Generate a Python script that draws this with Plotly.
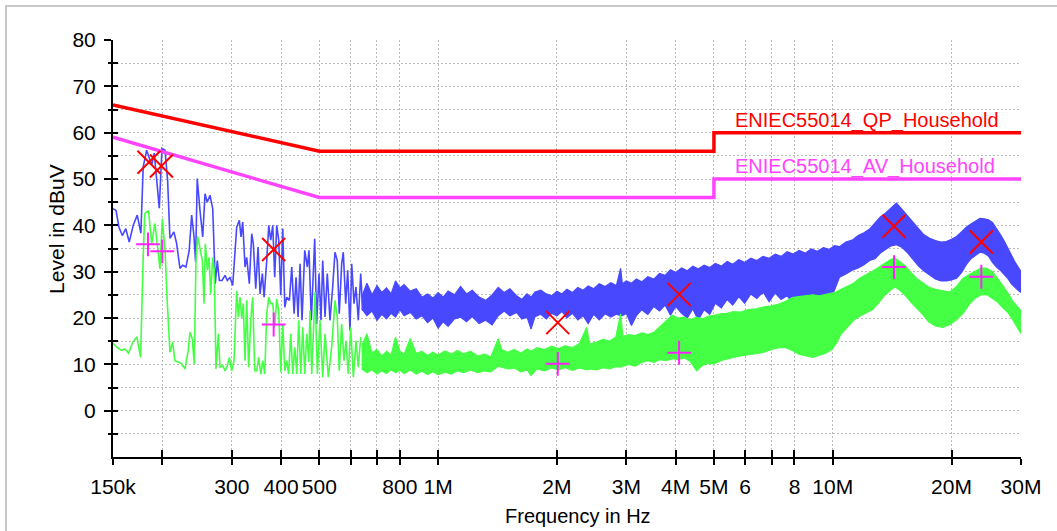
import plotly.graph_objects as go

# ---------------- data (frequency in MHz, level in dBuV) ----------------
# Peak (QP-detector) scan, low-frequency part drawn as a line
qp_line_f = [0.150, 0.1527, 0.1553, 0.1584, 0.1616, 0.1649, 0.1688, 0.1728, 0.1765, 0.1789,
             0.1825, 0.1880, 0.1908, 0.1965, 0.1996, 0.2032, 0.2063, 0.2091, 0.2140, 0.2174,
             0.2217, 0.2252, 0.2296, 0.2340, 0.2374, 0.2405, 0.2429, 0.2452, 0.2492, 0.2532,
             0.2566, 0.2600, 0.2642, 0.2684, 0.2725, 0.2757, 0.2790, 0.2834, 0.2884, 0.2923,
             0.2969, 0.3016, 0.3087, 0.3135, 0.3166, 0.3198, 0.3241, 0.3273, 0.3323, 0.3370,
             0.3402, 0.3450, 0.3497, 0.3538, 0.3586, 0.3622, 0.3679, 0.3722, 0.3765, 0.3810,
             0.3854, 0.3899, 0.3945, 0.3992, 0.4039, 0.4087, 0.4134, 0.4198, 0.4257, 0.4315,
             0.4365, 0.4417, 0.4468, 0.4520, 0.4592, 0.4662, 0.4707, 0.4772, 0.4867, 0.4923,
             0.4991, 0.5049, 0.5100, 0.5169, 0.5238, 0.5320, 0.5405, 0.5478, 0.5552, 0.5617,
             0.5696, 0.5750, 0.5832, 0.5900, 0.5980, 0.6040, 0.6121, 0.6193, 0.6277, 0.6366,
             0.6441]
qp_line_v = [43.6, 43.2, 39.6, 37.8, 39.3, 36.4, 40.0, 42.2, 38.3, 52.6,
             56.2, 53.0, 55.6, 43.7, 56.6, 56.2, 49.7, 37.2, 38.6, 36.1,
             30.7, 31.4, 31.0, 34.6, 42.2, 37.8, 32.1, 50.1, 43.2, 37.5,
             46.8, 45.0, 46.5, 43.6, 27.4, 32.4, 28.1, 28.1, 29.2, 28.1,
             28.8, 27.0, 39.6, 41.1, 37.5, 40.7, 31.0, 33.1, 27.4, 38.2,
             36.0, 26.3, 35.3, 25.2, 29.6, 24.5, 32.4, 40.0, 36.8, 40.0,
             28.8, 40.0, 36.8, 24.9, 39.3, 22.3, 24.5, 23.8, 31.0, 20.9,
             28.8, 20.2, 31.7, 19.5, 34.6, 31.0, 34.6, 19.5, 37.1, 18.7,
             29.6, 19.5, 32.4, 20.2, 29.6, 19.5, 26.7, 34.2, 32.4, 20.9,
             31.7, 34.2, 23.1, 30.3, 17.3, 31.7, 23.1, 26.7, 19.5, 29.6,
             21.6]

# Peak scan, dense part drawn as a band (upper / lower envelope)
qp_band_f = [0.64, 0.66, 0.68, 0.70, 0.72, 0.74, 0.76, 0.78, 0.80, 0.82,
             0.85, 0.88, 0.91, 0.94, 0.97, 1.00, 1.03, 1.06, 1.10, 1.14,
             1.18, 1.22, 1.27, 1.32, 1.37, 1.42, 1.47, 1.52, 1.58, 1.63,
             1.68, 1.72, 1.76, 1.82, 1.88, 1.94, 2.00, 2.06, 2.12, 2.19,
             2.26, 2.33, 2.40, 2.48, 2.56, 2.65, 2.74, 2.83, 2.90, 2.93,
             3.00, 3.09, 3.18, 3.28, 3.40, 3.52, 3.64, 3.76, 3.88, 4.00,
             4.14, 4.28, 4.42, 4.56, 4.72, 4.88, 5.04, 5.22, 5.40, 5.58,
             5.78, 5.98, 6.20, 6.42, 6.66, 6.90, 7.15, 7.40, 7.66, 7.94,
             8.22, 8.52, 8.82, 9.14, 9.47, 9.80, 10.1, 10.4, 10.8, 11.2,
             11.6, 12.0, 12.4, 12.8, 13.2, 13.6, 14.0, 14.5, 15.0, 15.5,
             16.0, 16.5, 17.0, 17.6, 18.2, 18.8, 19.4, 20.0, 20.6, 21.2,
             21.8, 22.4, 23.0, 23.6, 24.2, 24.8, 25.4, 26.0, 26.6, 27.2,
             27.8, 28.4, 29.0, 29.5, 30.0]
qp_band_hi = [24.5, 27.5, 25.0, 27.0, 25.5, 26.5, 25.2, 28.0, 26.5, 27.2,
              25.8, 26.3, 24.5, 25.2, 24.3, 25.5, 24.5, 25.8, 25.0, 26.8,
              25.2, 26.0, 24.5, 23.8, 25.0, 26.6, 25.5, 26.3, 24.8, 24.0,
              25.2, 24.5, 25.6, 26.0, 25.2, 24.8, 25.8, 25.2, 26.2, 25.5,
              26.6, 26.0, 26.9, 26.3, 27.4, 26.8, 27.6, 27.0, 30.7, 27.4,
              28.0, 27.5, 28.4, 27.8, 28.9, 28.4, 29.6, 29.2, 30.4, 29.8,
              30.8, 30.2, 31.2, 30.6, 31.4, 30.9, 31.8, 31.2, 32.2, 31.6,
              32.6, 32.0, 32.9, 32.4, 33.3, 32.9, 33.8, 33.3, 34.3, 33.8,
              34.6, 34.0, 34.9, 34.4, 35.2, 34.8, 35.6, 35.4, 36.4, 36.8,
              37.8, 38.4, 39.2, 40.5, 41.8, 42.6, 43.6, 44.8, 43.4, 42.0,
              40.4, 39.2, 38.0, 37.2, 36.7, 36.4, 36.5, 37.0, 37.6, 38.6,
              39.6, 40.3, 40.9, 41.5, 41.4, 41.2, 40.6, 39.4, 38.0, 36.6,
              35.0, 33.4, 32.0, 31.0, 30.0]
qp_band_lo = [22.0, 20.5, 21.5, 19.5, 20.8, 19.8, 21.0, 20.2, 21.8, 20.5,
              21.2, 19.8, 20.5, 19.0, 20.0, 17.8, 19.2, 18.2, 19.8, 20.2,
              19.2, 20.3, 18.8, 19.5, 18.5, 20.5, 21.5, 20.5, 21.2, 19.8,
              20.2, 17.6, 20.3, 20.8, 19.8, 21.0, 20.5, 21.4, 20.0, 21.0,
              19.6, 20.5, 18.8, 20.8, 19.6, 20.9, 20.2, 20.8, 20.5, 20.5,
              21.0, 18.4, 20.5, 21.8, 20.8, 22.5, 21.5, 22.8, 20.6, 22.5,
              21.0, 20.0, 22.0, 19.5, 21.8, 20.8, 23.2, 22.2, 24.0, 22.8,
              24.6, 23.2, 25.2, 24.2, 25.6, 23.5, 25.4, 24.0, 24.8, 23.2,
              24.5, 22.8, 23.8, 22.5, 24.0, 23.5, 26.0, 28.8, 29.5, 30.3,
              30.8, 31.5, 32.4, 32.8, 34.0, 34.8, 35.5, 35.8, 35.2, 34.0,
              32.5, 31.2, 30.2, 29.2, 28.4, 28.0, 28.0, 28.2, 28.6, 29.8,
              31.5, 32.8, 33.6, 34.2, 34.0, 33.4, 32.0, 31.0, 30.3, 29.5,
              28.5, 27.3, 26.5, 26.0, 25.5]

# Average scan, low-frequency part
av_line_f = [0.150, 0.1534, 0.1575, 0.1607, 0.1643, 0.1684, 0.1724, 0.1762, 0.1789, 0.1805,
             0.1845, 0.1880, 0.1916, 0.1953, 0.1973, 0.2000, 0.2032, 0.2058, 0.2091, 0.2124,
             0.2153, 0.2196, 0.2239, 0.2283, 0.2327, 0.2350, 0.2382, 0.2410, 0.2434, 0.2458,
             0.2492, 0.2526, 0.2551, 0.2571, 0.2601, 0.2627, 0.2653, 0.2684, 0.2709, 0.2736,
             0.2773, 0.2801, 0.2846, 0.2884, 0.2923, 0.2957, 0.2999, 0.3039, 0.3087, 0.3117,
             0.3148, 0.3179, 0.3209, 0.3241, 0.3273, 0.3310, 0.3351, 0.3390, 0.3430, 0.3470,
             0.3511, 0.3553, 0.3594, 0.3636, 0.3679, 0.3722, 0.3765, 0.3810, 0.3854, 0.3899,
             0.3945, 0.3992, 0.4039, 0.4087, 0.4134, 0.4181, 0.4232, 0.4282, 0.4332, 0.4383,
             0.4434, 0.4486, 0.4539, 0.4592, 0.4646, 0.4700, 0.4736, 0.4783, 0.4877, 0.4943,
             0.5020, 0.5100, 0.5169, 0.5270, 0.5373, 0.5478, 0.5552, 0.5617, 0.5696, 0.5773,
             0.5841, 0.5920, 0.6005, 0.6097, 0.6193, 0.6277, 0.6366]
av_line_v = [14.6, 13.7, 13.0, 13.3, 12.4, 14.8, 15.9, 11.5, 33.1, 42.5,
             43.2, 36.0, 40.4, 34.6, 30.6, 41.4, 34.6, 23.8, 12.6, 14.8,
             10.8, 10.5, 10.1, 9.0, 13.0, 16.9, 15.5, 10.1, 32.4, 37.6,
             34.6, 32.4, 23.1, 36.0, 30.3, 33.1, 25.2, 33.1, 30.3, 9.0,
             16.6, 9.4, 9.7, 8.6, 9.7, 11.5, 8.6, 10.8, 25.9, 20.2,
             24.5, 20.0, 23.1, 10.8, 23.8, 9.4, 19.5, 24.5, 8.6, 8.6,
             11.5, 7.9, 10.8, 7.9, 20.9, 24.5, 23.1, 23.1, 18.0, 24.1,
             21.6, 8.3, 18.7, 8.6, 10.8, 7.9, 16.6, 7.9, 13.7, 7.9,
             19.5, 7.9, 18.0, 7.9, 16.6, 10.5, 21.6, 7.9, 25.6, 7.9,
             19.5, 7.2, 16.6, 7.2, 13.7, 23.8, 20.2, 8.6, 18.7, 10.8,
             15.1, 7.9, 18.0, 7.2, 15.1, 9.4, 15.9]

# Average scan, dense part as a band
av_band_f = [0.64, 0.66, 0.68, 0.70, 0.72, 0.74, 0.76, 0.78, 0.80, 0.82,
             0.85, 0.88, 0.91, 0.94, 0.97, 1.00, 1.04, 1.08, 1.12, 1.16,
             1.21, 1.26, 1.31, 1.36, 1.42, 1.45, 1.50, 1.56, 1.62, 1.68,
             1.72, 1.78, 1.86, 1.94, 2.02, 2.10, 2.19, 2.28, 2.38, 2.42,
             2.52, 2.62, 2.72, 2.82, 2.90, 2.94, 3.04, 3.16, 3.28, 3.40,
             3.52, 3.64, 3.78, 3.92, 4.06, 4.20, 4.36, 4.52, 4.68, 4.84,
             5.00, 5.20, 5.40, 5.60, 5.85, 6.10, 6.40, 6.70, 7.00, 7.30,
             7.60, 7.90, 8.20, 8.55, 8.90, 9.25, 9.60, 9.95, 10.2, 10.5,
             10.9, 11.3, 11.7, 12.1, 12.6, 13.0, 13.5, 14.0, 14.4, 14.8,
             15.3, 15.8, 16.3, 16.9, 17.5, 18.2, 19.0, 19.8, 20.6, 21.4,
             22.2, 23.0, 23.8, 24.6, 25.4, 26.2, 27.0, 27.8, 28.6, 29.3,
             30.0]
av_band_hi = [14.0, 16.6, 12.5, 13.2, 11.8, 12.8, 12.0, 15.9, 12.8, 12.2,
              15.6, 12.4, 12.8, 11.9, 12.6, 12.0, 12.9, 12.2, 13.0, 12.3,
              12.8, 11.8, 12.2, 11.6, 15.5, 13.2, 12.6, 13.2, 12.4, 13.3,
              12.8, 13.6, 13.2, 13.9, 13.4, 14.0, 13.6, 14.5, 18.0, 14.4,
              14.8, 15.4, 15.0, 15.9, 20.9, 16.0, 16.4, 16.2, 16.8, 16.4,
              16.9, 18.0, 19.4, 20.6, 20.0, 20.2, 19.6, 20.2, 19.8, 20.4,
              20.6, 20.9, 21.0, 21.4, 21.3, 21.8, 22.0, 22.4, 22.6, 23.0,
              23.6, 24.4, 24.6, 24.8, 25.0, 24.8, 25.1, 25.3, 25.6, 26.2,
              26.8, 27.5, 28.6, 29.2, 30.1, 30.8, 31.8, 32.6, 32.9, 32.2,
              31.2, 29.8, 28.6, 27.6, 26.7, 26.2, 25.9, 25.6, 26.8, 28.6,
              29.4, 30.2, 30.8, 30.7, 30.0, 28.5, 27.0, 25.4, 23.6, 22.6,
              21.6]
av_band_lo = [9.0, 8.2, 8.8, 7.9, 8.6, 8.0, 8.8, 8.2, 8.7, 8.0,
              8.8, 7.9, 8.5, 7.8, 8.4, 7.8, 8.3, 7.9, 8.6, 8.2,
              8.8, 8.2, 8.6, 8.4, 9.6, 9.4, 9.0, 9.2, 8.4, 8.8,
              7.6, 9.0, 8.6, 9.2, 8.8, 9.3, 8.7, 9.2, 8.8, 9.0,
              8.8, 9.3, 9.0, 9.5, 9.4, 9.6, 10.0, 9.6, 10.4, 10.8,
              10.4, 11.0, 10.8, 11.2, 11.0, 11.4, 10.6, 8.6, 9.8, 10.2,
              10.1, 10.8, 11.2, 11.5, 11.8, 12.0, 12.3, 12.6, 13.2, 13.6,
              13.6, 13.0, 12.2, 11.8, 11.5, 12.0, 12.4, 13.2, 14.5, 16.5,
              18.0, 19.5, 20.4, 21.0, 21.8, 23.0, 24.8, 26.0, 26.7, 26.0,
              24.8, 23.4, 22.2, 20.8, 19.2, 18.3, 18.0, 18.6, 19.6, 21.0,
              23.0, 24.3, 25.0, 25.0, 24.2, 23.4, 22.2, 21.2, 19.6, 18.0,
              16.6]

# Limit lines
qp_limit_f = [0.15, 0.5, 5.0, 5.0, 30.0]
qp_limit_v = [66, 56, 56, 60, 60]
av_limit_f = [0.15, 0.5, 5.0, 5.0, 30.0]
av_limit_v = [59, 46, 46, 50, 50]

# Final measurement points
qp_final_f = [0.185, 0.199, 0.383, 2.01, 4.08, 14.3, 23.8]
qp_final_v = [53.6, 52.8, 34.8, 19.0, 25.1, 39.8, 36.4]
av_final_f = [0.184, 0.200, 0.383, 2.01, 4.08, 14.3, 23.8]
av_final_v = [35.9, 34.4, 18.6, 10.1, 12.5, 31.0, 28.9]

x_tickvals = [0.15, 0.2, 0.3, 0.4, 0.5, 0.6, 0.7, 0.8, 1, 2, 3, 4, 5, 6, 7, 8, 10, 20, 30]
x_ticktext = ["150k", "", "300", "400", "500", "", "", "800", "1M", "2M", "3M", "4M",
              "5M", "6", "", "8", "10M", "20M", "30M"]
y_major = [0, 10, 20, 30, 40, 50, 60, 70, 80]
y_minor = [-5, 5, 15, 25, 35, 45, 55, 65, 75]

# ---------------- styling ----------------
BLUE = "#4848FF"
GREEN = "#44FF44"
RED = "#FF0000"
MAG = "#FF44FF"
FONT = "Liberation Sans, Arial, sans-serif"
GRID = "#BBBBBB"


def hz(lst):
    return [v * 1e6 for v in lst]


fig = go.Figure()

# peak scan
fig.add_trace(go.Scatter(x=hz(qp_line_f), y=qp_line_v, mode="lines",
                         line=dict(color=BLUE, width=1.6)))
fig.add_trace(go.Scatter(x=hz(qp_band_f), y=qp_band_lo, mode="lines",
                         line=dict(color=BLUE, width=1.2)))
fig.add_trace(go.Scatter(x=hz(qp_band_f), y=qp_band_hi, mode="lines", fill="tonexty",
                         fillcolor=BLUE, line=dict(color=BLUE, width=1.2)))
# average scan
fig.add_trace(go.Scatter(x=hz(av_line_f), y=av_line_v, mode="lines",
                         line=dict(color=GREEN, width=1.6)))
fig.add_trace(go.Scatter(x=hz(av_band_f), y=av_band_lo, mode="lines",
                         line=dict(color=GREEN, width=1.2)))
fig.add_trace(go.Scatter(x=hz(av_band_f), y=av_band_hi, mode="lines", fill="tonexty",
                         fillcolor=GREEN, line=dict(color=GREEN, width=1.2)))
# limits
fig.add_trace(go.Scatter(x=hz(qp_limit_f), y=qp_limit_v, mode="lines",
                         line=dict(color=RED, width=3.5)))
fig.add_trace(go.Scatter(x=hz(av_limit_f), y=av_limit_v, mode="lines",
                         line=dict(color=MAG, width=3.5)))
# finals
fig.add_trace(go.Scatter(x=hz(qp_final_f), y=qp_final_v, mode="markers",
                         marker=dict(symbol="x-thin-open", size=23, color=RED,
                                     line=dict(color=RED, width=2))))
fig.add_trace(go.Scatter(x=hz(av_final_f), y=av_final_v, mode="markers",
                         marker=dict(symbol="cross-thin-open", size=17, color="#FF22FF",
                                     line=dict(color="#FF22FF", width=2))))
# dummy trace for the overlay axes carrying the inner halves of the ticks
fig.add_trace(go.Scatter(x=[1e6], y=[0], mode="markers", xaxis="x2", yaxis="y2",
                         marker=dict(opacity=0), hoverinfo="skip"))

xr = [5.176091259, 7.477121255]
yr = [-10, 80]

fig.update_layout(
    width=1057, height=531,
    margin=dict(l=113, r=36, t=40, b=74),
    paper_bgcolor="white", plot_bgcolor="white",
    showlegend=False,
    font=dict(family=FONT, size=21, color="black"),
    xaxis=dict(type="log", range=xr, tickmode="array", automargin=False,
               tickvals=hz(x_tickvals), ticktext=x_ticktext,
               ticks="outside", ticklen=6, tickwidth=2, tickcolor="black",
               showline=True, linecolor="black", linewidth=2,
               showgrid=True, gridcolor=GRID, gridwidth=1, griddash="2px,2px",
               zeroline=False, tickfont=dict(family=FONT, size=21),
               ticklabelstandoff=4),
    yaxis=dict(range=yr, tickmode="array", tickvals=y_major, automargin=False,
               ticks="outside", ticklen=7, tickwidth=2, tickcolor="black",
               showline=True, linecolor="black", linewidth=2,
               showgrid=True, gridcolor=GRID, gridwidth=1, griddash="2px,2px",
               zeroline=False, tickfont=dict(family=FONT, size=21),
               ticklabelstandoff=4,
               minor=dict(tickmode="array", tickvals=y_minor, ticks="outside", ticklen=3,
                          tickwidth=2, tickcolor="black", showgrid=True,
                          gridcolor=GRID, gridwidth=1, griddash="2px,2px")),
    xaxis2=dict(type="log", range=xr, overlaying="x", anchor="y2", side="bottom",
                tickmode="array", tickvals=hz(x_tickvals), ticks="inside", ticklen=7,
                tickwidth=2, tickcolor="black", showticklabels=False, showgrid=False,
                showline=False, zeroline=False, automargin=False),
    yaxis2=dict(range=yr, overlaying="y", anchor="x2", side="left",
                tickmode="array", tickvals=y_major, ticks="inside", ticklen=5,
                tickwidth=2, tickcolor="black", showticklabels=False, showgrid=False,
                showline=False, zeroline=False, automargin=False,
                minor=dict(tickmode="array", tickvals=y_minor, ticks="inside", ticklen=5,
                           tickwidth=2, tickcolor="black", showgrid=False)),
    annotations=[
        dict(x=6.747, y=60, xref="x", yref="y", text="ENIEC55014_QP_Household",
             showarrow=False, xanchor="left", yanchor="bottom", yshift=-1,
             font=dict(family=FONT, size=20, color=RED)),
        dict(x=6.747, y=50, xref="x", yref="y", text="ENIEC55014_AV_Household",
             showarrow=False, xanchor="left", yanchor="bottom", yshift=-1,
             font=dict(family=FONT, size=20, color=MAG)),
        dict(x=0.512, y=-0.1415, xref="paper", yref="paper", text="Frequency in Hz",
             showarrow=False, xanchor="center", yanchor="middle",
             font=dict(family=FONT, size=20, color="black")),
        dict(x=-0.0617, y=0.547, xref="paper", yref="paper", text="Level in dBuV",
             showarrow=False, xanchor="center", yanchor="middle", textangle=-90,
             font=dict(family=FONT, size=21, color="black")),
    ],
    shapes=[
        dict(type="rect", xref="paper", yref="paper", x0=-0.1178, x1=1.2,
             y0=-0.3, y1=1.0815, line=dict(color="#C8C8C8", width=2),
             fillcolor="rgba(0,0,0,0)", layer="below"),
    ],
)

fig.write_html("out.html")
